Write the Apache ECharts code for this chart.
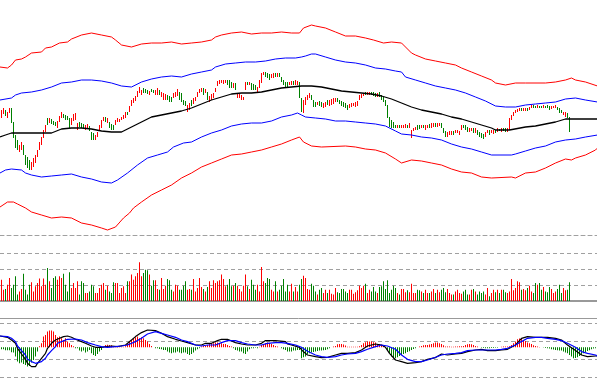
<!DOCTYPE html>
<html><head><meta charset="utf-8">
<script src="https://cdn.jsdelivr.net/npm/echarts@6/dist/echarts.min.js"></script>
<style>html,body{margin:0;padding:0;background:#fff;overflow:hidden}#c{width:597px;height:391px}</style>
</head><body><div id="c"></div>
<script>
const N = 299;
const categories = Array.from({length: N}, (_, i) => i);

const open = [
18.2,18.6,19.0,18.2,18.7,19.2,17.8,16.5,16.0,14.8,
15.0,15.5,14.5,14.3,14.0,13.0,13.3,13.7,14.3,15.0,
15.5,16.2,16.8,18.2,17.7,18.1,17.9,17.8,17.2,17.8,
18.2,18.6,18.5,18.4,18.2,17.5,17.9,18.0,17.0,17.8,
17.7,17.6,17.0,17.1,17.4,16.8,16.7,16.0,16.3,17.0,
17.2,17.9,18.3,17.7,17.8,17.6,17.5,17.5,17.8,17.8,
18.0,18.1,18.2,18.8,18.8,19.4,19.7,19.9,20.3,20.7,
20.5,21.2,21.1,21.0,20.5,21.1,21.0,20.5,20.5,21.0,
20.3,20.0,20.0,20.5,20.4,20.3,20.2,20.3,20.4,20.8,
20.7,20.0,19.9,18.8,19.0,20.0,19.6,19.9,20.3,20.7,
20.8,21.2,20.7,20.8,19.8,20.0,20.2,20.8,21.4,21.6,
21.7,21.6,21.7,22.0,22.0,21.8,21.2,21.7,20.2,20.2,
20.0,20.0,21.0,21.8,21.5,21.7,21.6,21.5,20.8,21.2,
21.7,22.5,22.8,22.7,22.6,22.2,22.2,22.7,22.3,22.7,
22.3,22.0,21.8,21.8,21.5,21.5,21.9,21.5,21.5,21.8,
20.2,18.7,19.5,20.0,20.2,20.5,20.0,19.8,19.5,19.9,
19.8,19.2,19.3,20.0,19.4,19.5,19.6,19.8,20.2,20.0,
19.9,19.8,19.7,19.5,19.2,19.3,19.4,19.3,19.4,20.0,
20.2,20.4,20.8,20.5,20.5,20.8,20.8,20.7,20.3,20.8,
20.5,20.3,20.0,19.5,18.3,18.0,17.8,17.5,17.2,17.5,
17.2,17.2,17.2,17.5,17.2,16.2,16.9,17.0,17.5,17.5,
17.2,17.5,17.0,17.2,17.6,17.2,17.3,17.7,17.3,17.4,
17.7,17.2,16.9,16.3,16.5,16.5,16.9,16.7,16.7,16.5,
17.0,17.5,17.5,17.3,16.8,16.9,17.2,16.7,17.0,16.8,
16.7,16.6,16.3,16.7,17.0,16.7,16.6,17.0,16.8,17.1,
16.8,17.2,17.2,16.8,17.0,18.0,18.4,18.7,18.8,18.9,
19.2,18.9,18.9,19.2,19.0,19.2,19.5,19.4,19.2,19.4,
19.4,19.2,19.4,19.5,19.4,19.1,19.2,19.2,19.3,19.2,
19.0,18.5,18.3,18.7,18.3];

const close = [
19.0,19.2,18.4,18.8,19.2,17.7,16.2,15.2,15.0,15.5,
15.8,14.5,13.5,13.2,13.0,13.8,14.2,14.5,15.0,15.8,
16.3,17.0,17.5,17.5,18.2,17.6,17.5,17.4,17.9,18.4,
18.8,18.2,18.0,18.0,17.2,18.2,18.6,18.7,17.7,17.3,
17.2,17.2,17.5,17.6,16.9,16.0,16.0,16.5,16.8,17.5,
18.0,18.3,17.8,18.2,17.2,17.0,17.0,18.0,18.2,18.1,
18.3,18.5,18.8,18.5,19.4,20.0,20.2,20.4,20.9,21.3,
21.0,20.7,20.7,20.6,20.9,20.8,20.7,21.0,21.2,20.5,
20.8,20.7,20.6,20.0,19.8,19.8,20.7,20.8,21.1,20.0,
19.8,19.5,19.4,19.5,19.7,19.4,20.2,20.3,20.8,21.1,
21.2,20.5,21.1,20.0,20.4,20.6,20.7,21.2,21.9,22.0,
22.0,22.0,22.0,21.5,21.2,21.2,21.7,21.0,20.7,20.6,
20.5,20.3,21.8,21.5,21.8,21.0,21.0,21.0,21.3,22.0,
22.7,22.8,22.3,22.2,22.0,22.6,22.7,22.3,22.7,22.3,
21.8,21.5,21.3,21.3,21.8,21.9,21.5,22.0,21.9,20.2,
18.8,20.0,20.3,20.5,20.7,20.0,19.3,19.3,19.8,19.4,
19.3,19.7,19.8,19.5,20.0,20.1,20.2,20.2,19.8,19.6,
19.4,19.3,19.2,19.0,19.6,19.7,19.7,19.8,19.9,20.5,
20.6,20.7,20.5,20.8,20.8,20.5,20.4,20.3,20.7,20.3,
20.0,19.8,19.4,18.2,17.3,17.2,17.2,17.2,17.5,17.2,
17.5,17.5,17.6,17.2,17.7,17.0,17.2,17.3,17.0,17.1,
17.5,17.2,17.5,17.5,17.2,17.7,17.7,17.3,17.7,17.7,
17.2,16.7,16.3,16.8,16.9,16.9,16.5,17.0,17.0,16.9,
17.5,17.2,17.0,16.8,17.2,17.2,16.7,17.2,16.5,16.3,
16.2,16.1,16.8,17.0,16.5,17.0,17.0,16.7,17.2,16.9,
17.2,16.9,16.8,17.2,18.2,18.5,18.8,19.0,19.1,19.2,
18.9,19.2,19.2,18.9,19.3,19.5,19.2,19.2,19.5,19.2,
19.2,19.5,19.2,19.2,19.0,19.4,19.4,19.5,19.0,18.7,
18.7,18.8,18.8,18.2,16.8];

const volume = [
1330,710,750,1020,1440,810,1020,1540,400,600,
750,1710,710,400,1020,1170,600,920,1130,1400,
920,1400,1020,2060,1230,810,1440,1540,1330,1540,
1440,1710,1020,600,1790,810,1130,810,1230,400,
1230,1130,500,500,600,1020,920,500,500,810,
1020,1130,710,960,600,500,1170,1130,1130,500,
810,920,500,1230,1230,1650,1330,1540,1750,2420,
1540,1750,1960,1920,1650,960,1290,1290,750,710,
1440,750,960,1380,1290,710,600,1020,960,710,
710,960,1230,710,750,710,1380,600,810,1440,
880,750,600,880,1230,810,1290,1130,1230,1290,
1650,1380,920,1020,1380,920,960,1130,960,750,
600,960,1650,920,750,1330,1020,710,1020,600,
2130,1230,1130,1440,1380,710,600,1230,600,710,
960,1380,600,1020,600,1080,600,880,600,1020,
1380,1580,1440,750,710,1080,960,600,400,710,
810,500,710,500,710,460,400,810,540,500,
750,750,600,500,710,710,460,540,670,960,
810,960,1080,500,710,600,880,600,500,880,
920,1230,750,1290,500,710,960,810,500,400,
750,750,540,670,540,1080,500,500,710,670,
600,500,710,500,500,600,750,500,710,540,
710,810,540,750,500,400,400,600,710,500,
460,600,710,400,400,710,750,600,400,600,
500,600,400,810,290,500,710,540,710,500,
710,710,540,500,600,1380,670,810,1230,1170,
710,750,670,810,960,600,500,1130,1020,1130,
710,880,600,540,880,750,500,600,750,1020,
500,810,670,710,1170];

const macdHist = [
-0.2,-0.2,-0.3,-0.3,-0.3,-0.5,-0.53,-0.93,-1.43,-1.6,
-1.53,-1.67,-1.77,-1.93,-1.87,-1.53,-1.27,-0.93,-0.43,0.1,
0.4,1.07,1.23,1.57,1.67,1.67,1.57,1.23,1.0,1.07,
0.9,0.73,0.9,0.57,0.4,0.23,0.1,-0.1,-0.1,-0.33,
-0.43,-0.33,-0.53,-0.43,-0.27,-0.6,-0.77,-0.87,-0.67,-0.43,
-0.27,-0.05,0.23,0.25,0.23,0.2,0.05,0.05,0.05,0.1,
0.05,0.05,0.1,0.4,0.57,0.73,0.9,1.0,1.07,0.9,
1.0,0.9,0.73,0.57,0.33,0.13,0,-0.1,-0.1,-0.17,
-0.2,-0.27,-0.27,-0.43,-0.53,-0.6,-0.53,-0.53,-0.43,-0.53,
-0.6,-0.53,-0.53,-0.67,-0.77,-0.67,-0.53,-0.33,-0.2,-0.1,
0.07,0.13,0.13,0.23,0.33,0.4,0.4,0.47,0.47,0.4,
0.4,0.33,0.33,0.23,0.13,0.07,-0.1,-0.27,-0.33,-0.43,
-0.43,-0.6,-0.67,-0.43,-0.2,-0.1,-0.1,-0.05,-0.1,0.05,
0.23,0.23,0.4,0.47,0.4,0.33,0.23,0.13,0.07,0,
-0.1,-0.2,-0.27,-0.43,-0.43,-0.43,-0.33,-0.33,-0.27,-0.27,
-1.1,-1.0,-0.93,-0.67,-0.6,-0.53,-0.47,-0.43,-0.37,-0.33,
-0.33,-0.3,-0.27,-0.2,-0.1,0,0.07,0.13,0.3,0.33,
0.33,0.27,0.17,0.05,0.05,0.05,0.05,0.05,0.05,0.1,
0.23,0.4,0.5,0.57,0.57,0.57,0.5,0.47,0.33,0.3,
0.23,0.13,0,-0.33,-0.6,-0.93,-1.1,-1.1,-1.0,-0.87,
-0.77,-0.67,-0.6,-0.47,-0.4,-0.27,-0.17,-0.1,0,0.07,
0.13,0.2,0.23,0.23,0.27,0.33,0.4,0.47,0.47,0.4,
0.33,0.2,0.07,0.07,0.07,0.05,0.05,0.07,0.07,0.1,
0.1,0.13,0.23,0.3,0.33,0.3,0.23,0.13,0.07,0,
-0.05,-0.07,-0.1,-0.1,-0.1,-0.07,-0.07,-0.05,-0.05,0,
0.05,0.07,0.07,0.07,0.1,0.23,0.4,0.57,0.8,0.87,
0.9,0.73,0.63,0.47,0.4,0.33,0.2,0.13,0.07,0.03,
0,-0.03,-0.07,-0.1,-0.13,-0.2,-0.23,-0.27,-0.3,-0.33,
-0.33,-0.43,-0.53,-0.6,-0.77,-0.93,-1.1,-1.07,-1.0,-0.87,
-0.77,-0.6,-0.47,-0.37,-0.3,-0.2,-0.13,-0.1,-0.03];

const redUpper = [[-0.75,23.3],[3,23.2],[5,23.5],[7,24.0],[10,24.1],[12,24.3],[15,24.7],[20,24.8],[22,25.2],[25,25.3],[29,25.7],[33,25.8],[35,26.1],[40,26.5],[45,26.7],[50,26.5],[55,26.3],[57,26.0],[60,25.5],[65,25.3],[70,25.6],[75,25.7],[80,25.7],[85,25.8],[90,25.6],[95,25.7],[100,25.8],[105,26.0],[107,26.3],[110,26.5],[115,26.7],[120,26.8],[125,26.6],[130,26.7],[135,26.7],[140,26.8],[145,26.7],[149,26.7],[151,27.2],[155,27.5],[157,27.4],[162,27.2],[167,26.8],[172,26.4],[177,26.4],[182,26.2],[186,26.0],[191,25.7],[195,25.8],[200,25.7],[202,25.3],[205,24.7],[207,24.5],[212,24.1],[217,23.9],[222,23.7],[227,23.5],[230,23.2],[235,22.8],[240,22.4],[245,22.0],[247,21.7],[252,21.5],[257,21.7],[262,21.7],[272,21.7],[277,21.8],[282,22.0],[285,22.2],[287,22.0],[292,21.8],[298,21.4]];
const blueUpper = [[-0.75,20.0],[5,20.2],[7,20.5],[10,20.7],[15,20.8],[20,21.0],[25,21.3],[30,21.7],[35,21.8],[40,22.0],[45,22.0],[50,21.9],[55,21.7],[60,21.4],[65,21.3],[70,21.8],[75,22.1],[80,22.3],[85,22.4],[90,22.3],[95,22.6],[100,22.8],[105,23.0],[107,23.3],[112,23.6],[117,23.7],[122,23.8],[127,23.8],[132,23.9],[137,24.1],[142,24.2],[147,24.2],[150,24.3],[152,24.4],[155,24.6],[157,24.6],[162,24.3],[167,24.0],[172,23.8],[177,23.7],[182,23.5],[187,23.2],[192,23.1],[197,22.9],[200,22.8],[202,22.3],[207,22.0],[212,21.7],[217,21.4],[222,21.2],[227,21.0],[232,20.7],[237,20.3],[242,19.9],[247,19.4],[252,19.3],[257,19.3],[262,19.5],[267,19.6],[272,19.7],[277,19.8],[282,20.1],[287,20.2],[292,20.0],[298,19.8]];
const midLine = [[-0.75,16.3],[2,16.5],[5,16.7],[10,16.7],[15,16.7],[20,16.7],[25,16.7],[30,17.1],[35,17.2],[40,17.2],[45,17.1],[50,16.9],[55,16.8],[60,16.8],[65,17.3],[70,17.8],[75,18.3],[80,18.5],[85,18.7],[90,18.9],[95,19.2],[100,19.6],[105,20.0],[110,20.3],[115,20.6],[120,20.7],[125,20.7],[130,20.8],[135,21.0],[140,21.2],[145,21.3],[150,21.4],[155,21.4],[160,21.3],[165,21.1],[170,20.9],[175,20.8],[180,20.7],[185,20.6],[190,20.4],[195,20.1],[200,19.7],[205,19.3],[210,19.0],[215,18.8],[220,18.6],[225,18.3],[230,18.1],[235,17.8],[240,17.5],[245,17.2],[247,17.0],[254,17.0],[262,17.3],[267,17.4],[272,17.6],[277,17.8],[282,18.1],[298,18.1]];
const blueLower = [[-0.75,12.7],[2,13.0],[5,13.1],[10,13.0],[12,12.7],[15,12.5],[20,12.3],[25,12.4],[30,12.5],[35,12.6],[40,12.3],[45,12.1],[50,11.8],[55,11.7],[58,12.0],[63,12.7],[68,13.5],[73,14.2],[78,14.5],[83,14.8],[86,15.3],[91,15.7],[95,15.8],[100,16.3],[105,16.7],[110,17.0],[115,17.4],[120,17.6],[125,17.7],[130,17.7],[135,17.9],[140,18.3],[145,18.5],[148,18.7],[150,18.5],[152,18.3],[157,18.2],[162,18.1],[167,17.9],[172,17.9],[177,17.8],[182,17.7],[187,17.6],[192,17.4],[197,16.9],[200,16.6],[205,16.5],[210,16.3],[215,16.2],[220,16.0],[225,15.6],[230,15.3],[235,15.1],[240,14.8],[245,14.5],[255,14.5],[257,14.6],[262,14.9],[267,15.2],[272,15.4],[277,15.8],[282,16.0],[287,16.1],[292,16.3],[298,16.5]];
const redLower = [[-0.75,9.3],[3,9.8],[6,9.8],[8,9.6],[12,9.2],[15,8.8],[20,8.5],[25,8.2],[30,8.3],[35,8.2],[40,7.7],[45,7.5],[50,7.2],[53,7.0],[57,7.3],[61,8.2],[64,8.7],[66,9.2],[70,9.8],[75,10.5],[80,11.0],[85,11.5],[90,12.2],[95,12.7],[100,13.3],[105,13.7],[110,14.1],[115,14.5],[120,14.6],[125,14.8],[130,15.0],[135,15.3],[140,15.6],[145,16.0],[149,16.3],[151,15.8],[155,15.4],[160,15.3],[172,15.4],[177,15.3],[182,15.1],[187,15.0],[192,14.7],[197,14.1],[200,13.7],[201,13.6],[205,14.0],[210,13.9],[215,13.7],[220,13.5],[225,13.1],[230,12.8],[235,12.7],[240,12.3],[245,12.2],[255,12.3],[257,12.2],[262,12.7],[267,12.8],[272,13.2],[277,13.7],[282,14.1],[285,14.0],[287,14.2],[292,14.5],[297,15.0],[298,15.2]];

const difPts = [[-0.75,1.13],[3,1.0],[5,0.73],[7,0.4],[8,-0.1],[10,-0.67],[12,-1.2],[13,-1.6],[15,-1.93],[17,-1.93],[18,-1.6],[20,-1.1],[22,-0.6],[23,-0.1],[25,0.4],[27,0.73],[28,0.9],[31,1.07],[33,1.13],[35,1.0],[37,0.8],[38,0.8],[40,0.57],[42,0.4],[43,0.33],[45,0.13],[47,0],[48,-0.1],[50,0],[52,0.07],[55,0.13],[58,0.07],[62,0.23],[63,0.33],[65,0.73],[67,1.07],[70,1.47],[73,1.73],[77,1.67],[80,1.4],[83,1.07],[87,0.8],[90,0.63],[93,0.47],[97,0.23],[100,0.23],[102,0.4],[105,0.4],[108,0.67],[110,0.8],[113,0.8],[117,0.47],[120,0.33],[123,0.23],[127,0.23],[130,0.4],[132,0.67],[137,0.67],[142,0.57],[143,0.33],[145,0.23],[149,0.0],[151,-0.45],[153,-0.77],[157,-0.93],[160,-1.03],[163,-1.0],[167,-0.77],[170,-0.6],[173,-0.6],[177,-0.53],[180,-0.27],[183,0.13],[187,0.33],[190,0.23],[192,0],[194,-0.6],[197,-1.27],[200,-1.43],[203,-1.6],[207,-1.53],[210,-1.43],[213,-1.2],[217,-1.03],[220,-0.67],[223,-0.77],[227,-0.67],[230,-0.6],[233,-0.43],[237,-0.27],[240,-0.2],[243,-0.33],[247,-0.33],[250,-0.27],[253,-0.2],[257,0.23],[260,0.9],[263,1.07],[267,1.0],[270,1.0],[273,1.0],[277,0.9],[280,0.73],[283,0.23],[287,-0.33],[290,-0.77],[293,-0.93],[297,-0.87],[298,-0.87]];
const deaPts = [[-0.75,1.13],[3,1.07],[5,0.9],[7,0.57],[8,0.13],[10,-0.33],[12,-0.77],[13,-1.2],[15,-1.43],[17,-1.6],[18,-1.6],[20,-1.43],[22,-1.1],[23,-0.77],[25,-0.33],[27,0.07],[28,0.4],[30,0.57],[33,0.8],[37,0.83],[40,0.73],[43,0.47],[47,0.23],[50,0.07],[53,0],[57,0.07],[60,0.13],[63,0.23],[67,0.57],[70,0.9],[73,1.33],[77,1.57],[80,1.4],[83,1.23],[87,1.0],[90,0.73],[93,0.57],[97,0.23],[100,0.13],[103,0.23],[107,0.23],[110,0.47],[113,0.67],[117,0.67],[120,0.47],[123,0.33],[127,0.23],[130,0.23],[133,0.4],[137,0.47],[140,0.47],[143,0.4],[147,0.23],[150,0.0],[153,-0.4],[157,-0.77],[160,-0.93],[163,-1.0],[167,-0.93],[170,-0.77],[173,-0.67],[177,-0.6],[180,-0.43],[183,-0.2],[187,0.07],[190,0.23],[193,0.13],[197,-0.2],[200,-0.77],[203,-1.2],[207,-1.43],[210,-1.43],[213,-1.27],[217,-1.0],[220,-0.77],[223,-0.67],[227,-0.6],[230,-0.53],[233,-0.33],[237,-0.27],[240,-0.27],[243,-0.27],[247,-0.27],[250,-0.2],[253,-0.1],[257,0.23],[260,0.57],[263,0.9],[267,1.0],[270,1.0],[273,0.9],[277,0.8],[280,0.67],[283,0.4],[287,0],[290,-0.43],[293,-0.6],[297,-0.77],[298,-0.87]];

// MACD panel dashed reference levels (same units as the MACD values)
const macdGridLevels = [2.43, 0.63, -1.17, -2.97];

const UP = '#ff0000', DOWN = '#008000', GRIDC = '#a0a0a0';
const ohlc = open.map((o, i) => [categories[i], o, close[i], Math.min(o, close[i]), Math.max(o, close[i])]);
const volData = volume.map((v, i) => ({value: [categories[i], v], itemStyle: {color: close[i] >= open[i] ? UP : DOWN}}));
const histData = macdHist.map((v, i) => ({value: [categories[i], v], itemStyle: {color: v >= 0 ? UP : DOWN}}));

const dash = [4, 3];
// value x axis, 2px per trading day, grid exactly inside the 597px canvas
function xa(gi, extra) {
  return Object.assign({type: 'value', gridIndex: gi, min: -0.75, max: 297.75,
    axisTick: {show: false}, axisLabel: {show: false}, splitLine: {show: false}}, extra);
}
const hiddenY = (gi, min, max) => ({type: 'value', gridIndex: gi, min, max, show: false, splitLine: {show: false}});
function line(data, color, xi, yi, w) {
  return {type: 'line', data, xAxisIndex: xi, yAxisIndex: yi, showSymbol: false, symbol: 'none',
    lineStyle: {color, width: w || 1}, itemStyle: {color}, silent: true, z: 3};
}

const chart = echarts.init(document.getElementById('c'), null, {renderer: 'canvas'});
chart.setOption({
  animation: false,
  backgroundColor: '#fff',
  grid: [
    {left: 0, right: 0, top: 0, height: 235, outerBoundsMode: 'none'},
    {left: 0, right: 0, top: 253, height: 48, outerBoundsMode: 'none'},
    {left: 0, right: 0, top: 318, bottom: 0, outerBoundsMode: 'none'}
  ],
  xAxis: [
    xa(0, {axisLine: {show: true, onZero: false, lineStyle: {color: GRIDC, type: dash, width: 1}}}),
    xa(1, {axisLine: {show: true, onZero: false, lineStyle: {color: '#999', width: 2}}}),
    xa(2, {position: 'top', axisLine: {show: true, onZero: false, lineStyle: {color: '#999', width: 1}}})
  ],
  yAxis: [
    hiddenY(0, 6.5, 30),
    {type: 'value', gridIndex: 1, min: 0, max: 3000, interval: 1000,
      axisLine: {show: false}, axisTick: {show: false}, axisLabel: {show: false},
      splitLine: {show: true, lineStyle: {color: GRIDC, type: dash, width: 1}}},
    hiddenY(2, -4.37, 2.93)
  ],
  series: [
    {type: 'candlestick', xAxisIndex: 0, yAxisIndex: 0, data: ohlc, barWidth: 1,
      encode: {x: 0, y: [1, 2, 3, 4]},
      itemStyle: {color: UP, color0: DOWN, borderColor: UP, borderColor0: DOWN, borderWidth: 1}, z: 2},
    line(redUpper, '#ff0000', 0, 0),
    line(blueUpper, '#0000ff', 0, 0),
    line(midLine, '#000000', 0, 0, 1.3),
    line(blueLower, '#0000ff', 0, 0),
    line(redLower, '#ff0000', 0, 0),
    {type: 'bar', xAxisIndex: 1, yAxisIndex: 1, data: volData, barWidth: 1, silent: true},
    {type: 'bar', xAxisIndex: 2, yAxisIndex: 2, data: histData, barWidth: 1, silent: true,
      markLine: {silent: true, symbol: 'none', label: {show: false}, z: 1,
        lineStyle: {color: GRIDC, type: dash, width: 1},
        data: macdGridLevels.map(v => ({yAxis: v}))}},
    line(difPts, '#000000', 2, 2, 1.2),
    line(deaPts, '#0000ff', 2, 2, 1.2)
  ]
});
</script></body></html>
